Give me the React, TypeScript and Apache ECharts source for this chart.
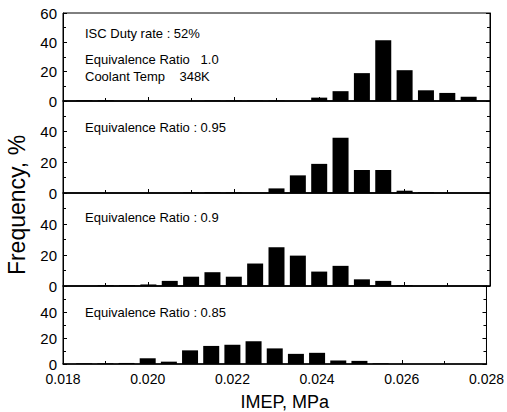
import React, { useEffect, useRef } from "react";
import * as echarts from "echarts";

// Bin centres of the IMEP histogram (MPa)
const binCenters = [
  0.0185, 0.019, 0.0195, 0.02, 0.0205, 0.021, 0.0215, 0.022, 0.0225, 0.023,
  0.0235, 0.024, 0.0245, 0.025, 0.0255, 0.026, 0.0265, 0.027, 0.0275,
];
// Frequency (%) per panel
const freqER100 = [0.5, 0.5, 0, 0, 0, 0, 0.3, 0.3, 0.3, 0.3, 0, 2.3, 6.7, 19, 41.5, 21, 7.3, 5.5, 2.9];
const freqER095 = [0, 0, 0, 0, 0, 0.3, 0.5, 0.3, 0, 3, 11.5, 19, 36, 15, 15, 1.5, 0.5, 0, 0];
const freqER090 = [0, 0.5, 0.5, 1, 3.3, 6, 8.9, 6, 14.5, 25, 19.6, 9.3, 13, 4.3, 3.3, 0.5, 0, 0, 0];
const freqER085 = [0.5, 0.5, 0.8, 4.4, 1.8, 10.5, 13.9, 14.8, 17.5, 12, 7.8, 8.6, 2.7, 2.4, 0.5, 0, 0, 0, 0];

const panelFreqs = [freqER100, freqER095, freqER090, freqER085];
const panelLabels = [
  ["ISC Duty rate : 52%", "Equivalence Ratio   1.0", "Coolant Temp    348K"],
  ["Equivalence Ratio : 0.95"],
  ["Equivalence Ratio : 0.9"],
  ["Equivalence Ratio : 0.85"],
];
const xTickLabels = ["0.018", "0.020", "0.022", "0.024", "0.026", "0.028"];
const yTickLabels = ["0", "20", "40", "60"];

const FONT = '"Liberation Sans", Arial, sans-serif';

export default function App() {
  const ref = useRef<HTMLDivElement>(null);
  useEffect(() => {
    if (!ref.current) return;
    const chart = echarts.init(ref.current, undefined, { renderer: "svg" });
    const tops = [13, 101, 193, 286];
    const bottoms = [101, 193, 286, 372];
    const grids: any[] = [];
    const xAxes: any[] = [];
    const yAxes: any[] = [];
    const series: any[] = [];
    const graphics: any[] = [];
    const textYs = [[33, 59, 76], [127], [217], [312]];

    for (let i = 0; i < 4; i++) {
      grids.push({
        left: 63,
        right: 17,
        top: tops[i],
        height: bottoms[i] - tops[i],
        show: true,
        borderColor: "#000",
        borderWidth: 1,
        backgroundColor: "transparent",
      });
      const isBottom = i === 3;
      xAxes.push({
        type: "value",
        gridIndex: i,
        min: 0.018,
        max: 0.028,
        interval: 0.002,
        axisLine: { show: true, onZero: false, lineStyle: { color: "#000", width: 1.5 } },
        axisTick: { show: true, inside: true, length: 4, lineStyle: { color: "#000" } },
        minorTick: { show: true, splitNumber: 2, length: 3, lineStyle: { color: "#000" } },
        splitLine: { show: false },
        axisLabel: {
          show: isBottom,
          color: "#000",
          fontFamily: FONT,
          fontSize: 14,
          margin: 8,
          formatter: (v: number) => {
            const s = v.toFixed(3);
            return xTickLabels.includes(s) ? s : "";
          },
        },
        name: isBottom ? "IMEP, MPa" : "",
        nameLocation: "middle",
        nameGap: 29,
        nameTextStyle: { color: "#000", fontFamily: FONT, fontSize: 18, padding: [0, 0, 0, 20] },
      });
      yAxes.push({
        type: "value",
        gridIndex: i,
        min: 0,
        max: 60,
        interval: 20,
        position: "left",
        axisLine: { show: true, lineStyle: { color: "#000" } },
        axisTick: { show: true, inside: true, length: 4, lineStyle: { color: "#000" } },
        minorTick: { show: true, splitNumber: 2, length: 3, lineStyle: { color: "#000" } },
        splitLine: { show: false },
        axisLabel: {
          color: "#000",
          fontFamily: FONT,
          fontSize: 15,
          margin: 6,
          formatter: (v: number) => {
            const s = String(v);
            if (i > 0 && s === "60") return "";
            return yTickLabels.includes(s) ? s : "";
          },
        },
      });
      yAxes.push({
        type: "value",
        gridIndex: i,
        min: 0,
        max: 60,
        interval: 20,
        position: "right",
        axisLine: { show: true, lineStyle: { color: "#000" } },
        axisTick: { show: true, inside: true, length: 4, lineStyle: { color: "#000" } },
        minorTick: { show: true, splitNumber: 2, length: 3, lineStyle: { color: "#000" } },
        splitLine: { show: false },
        axisLabel: { show: false },
      });
      series.push({
        type: "bar",
        xAxisIndex: i,
        yAxisIndex: 2 * i,
        barWidth: 16,
        itemStyle: { color: "#000" },
        data: binCenters.map((c, k) => [c, panelFreqs[i][k]]),
      });
      panelLabels[i].forEach((t, j) => {
        graphics.push({
          type: "text",
          x: 85,
          y: textYs[i][j],
          style: {
            text: t,
            font: `13px ${FONT}`,
            fill: "#000",
            verticalAlign: "middle",
            align: "left",
          },
        });
      });
    }
    graphics.push({
      type: "text",
      x: 17,
      y: 205,
      rotation: Math.PI / 2,
      style: {
        text: "Frequency, %",
        font: `23px ${FONT}`,
        fill: "#000",
        align: "center",
        verticalAlign: "middle",
      },
    });

    chart.setOption({
      animation: false,
      backgroundColor: "#fff",
      grid: grids,
      xAxis: xAxes,
      yAxis: yAxes,
      series,
      graphic: graphics,
    });
    return () => chart.dispose();
  }, []);
  return <div ref={ref} style={{ width: 507, height: 412, position: "absolute", left: 0, top: 0 }} />;
}
